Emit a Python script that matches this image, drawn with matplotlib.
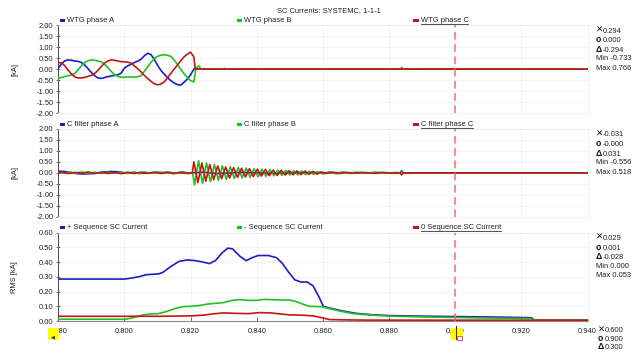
import matplotlib
matplotlib.use("Agg")
import matplotlib.pyplot as plt
from matplotlib.patches import Rectangle
from matplotlib.lines import Line2D

plt.rcParams['font.family'] = ['Liberation Sans', 'DejaVu Sans']

# ---------------------------------------------------------------- data
# WTG phase currents [kA] before the breaker opens
wtg_t = [0.780, 0.781, 0.782, 0.783, 0.784, 0.785, 0.786, 0.787, 0.788, 0.789,
         0.790, 0.791, 0.792, 0.793, 0.794, 0.795, 0.796, 0.797, 0.798, 0.799,
         0.800, 0.801, 0.802, 0.803, 0.804, 0.805, 0.806, 0.807, 0.808, 0.809,
         0.810, 0.811, 0.812, 0.813, 0.814, 0.815, 0.816, 0.817, 0.818, 0.819,
         0.820, 0.821]
wtg_a = [0.05, 0.25, 0.38, 0.42, 0.40, 0.37, 0.35, 0.30, 0.18, 0.02,
         -0.15, -0.30, -0.40, -0.42, -0.38, -0.34, -0.31, -0.28, -0.26, -0.18,
         0.05, 0.15, 0.22, 0.30, 0.36, 0.45, 0.60, 0.72, 0.66, 0.45,
         0.18, -0.05, -0.22, -0.38, -0.52, -0.62, -0.70, -0.72, -0.60, -0.45,
         -0.25, 0.00]
wtg_b = [-0.41, -0.38, -0.33, -0.30, -0.26, -0.20, -0.02, 0.15, 0.30, 0.38,
         0.42, 0.40, 0.37, 0.33, 0.22, 0.08, -0.10, -0.25, -0.33, -0.37,
         -0.36, -0.36, -0.35, -0.36, -0.34, -0.30, -0.10, 0.10, 0.30, 0.48,
         0.58, 0.63, 0.65, 0.63, 0.58, 0.42, 0.22, 0.00, -0.20, -0.38,
         -0.52, -0.58]
wtg_c = [0.30, 0.28, 0.15, -0.05, -0.22, -0.35, -0.40, -0.40, -0.37, -0.33,
         -0.28, -0.20, -0.05, 0.12, 0.28, 0.37, 0.42, 0.40, 0.37, 0.34,
         0.33, 0.32, 0.27, 0.15, 0.02, -0.12, -0.28, -0.42, -0.55, -0.66,
         -0.71, -0.68, -0.58, -0.40, -0.20, 0.00, 0.18, 0.38, 0.55, 0.68,
         0.77, 0.55]
# after the breaker opens
wtg_a_tail_t = [0.8215, 0.822, 0.940]
wtg_a_tail = [0.06, 0.0, 0.0]
wtg_b_tail_t = [0.8216, 0.8225, 0.8232, 0.8298, 0.8302, 0.8306, 0.8834, 0.8838, 0.8842, 0.940]
wtg_b_tail = [0.05, 0.15, 0.0, 0.0, 0.04, 0.0, 0.0, 0.08, 0.0, 0.0]
wtg_c_tail_t = [0.8214, 0.940]
wtg_c_tail = [0.0, 0.0]

# C filter currents [kA]
cf_a_t = [0.780, 0.782, 0.784, 0.786, 0.788, 0.790, 0.792, 0.794, 0.796, 0.798,
          0.800, 0.805, 0.810, 0.815, 0.8205, 0.824, 0.828, 0.835, 0.845, 0.855,
          0.8834, 0.8838, 0.8842, 0.940]
cf_a = [0.08, 0.06, 0.00, -0.04, -0.05, -0.04, 0.00, 0.04, 0.06, 0.05,
        0.00, -0.02, 0.02, 0.00, 0.00, 0.03, -0.03, 0.02, -0.02, 0.01,
        0.0, 0.10, 0.0, 0.0]
cf_b_t = [0.780, 0.782, 0.7835, 0.785, 0.787, 0.789, 0.791, 0.793, 0.795, 0.797,
          0.799, 0.801, 0.803, 0.8045, 0.806, 0.808, 0.810, 0.812, 0.814, 0.816,
          0.818, 0.8195, 0.8206,
          0.8212, 0.8224, 0.8236, 0.8248, 0.8260, 0.8272, 0.8284, 0.8296, 0.8308, 0.8320,
          0.8332, 0.8344, 0.8356, 0.8368, 0.8380, 0.8392, 0.8404, 0.8416, 0.8428, 0.8440,
          0.8452, 0.8464, 0.8476, 0.8488, 0.8500, 0.8512, 0.8524, 0.8536, 0.8548, 0.8560,
          0.8572, 0.8584,
          0.860, 0.862, 0.864, 0.866, 0.868, 0.870, 0.873, 0.876, 0.879, 0.882,
          0.8834, 0.8838, 0.8842, 0.940]
cf_b = [0.02, -0.02, 0.04, -0.02, 0.04, -0.03, 0.03, -0.03, 0.02, -0.02,
        0.03, -0.03, 0.05, -0.04, 0.04, -0.02, 0.03, -0.03, 0.02, -0.02,
        0.04, -0.03, 0.00,
        -0.55, 0.55, -0.48, 0.45, -0.40, 0.38, -0.34, 0.32, -0.30, 0.28,
        -0.26, 0.25, -0.23, 0.22, -0.20, 0.19, -0.18, 0.17, -0.16, 0.15,
        -0.14, 0.13, -0.12, 0.11, -0.10, 0.10, -0.09, 0.09, -0.08, 0.07,
        -0.07, 0.06,
        -0.05, 0.05, -0.04, 0.04, -0.03, 0.03, -0.02, 0.03, -0.02, 0.02,
        0.0, 0.05, 0.0, 0.0]
cf_c_t = [0.780, 0.781, 0.783, 0.785, 0.787, 0.789, 0.791, 0.793, 0.795, 0.797,
          0.799, 0.801, 0.803, 0.805, 0.807, 0.809, 0.811, 0.813, 0.815, 0.817,
          0.819, 0.8205,
          0.8210, 0.8222, 0.8234, 0.8246, 0.8258, 0.8270, 0.8282, 0.8294, 0.8306, 0.8318,
          0.8330, 0.8342, 0.8354, 0.8366, 0.8378, 0.8390, 0.8402, 0.8414, 0.8426, 0.8438,
          0.8450, 0.8462, 0.8474, 0.8486, 0.8498, 0.8510, 0.8522, 0.8534, 0.8546, 0.8558,
          0.8570, 0.8582,
          0.8595, 0.861, 0.863, 0.865, 0.867, 0.869, 0.872, 0.875, 0.878, 0.881,
          0.8834, 0.8838, 0.8842, 0.940]
cf_c = [-0.02, 0.03, -0.03, 0.02, -0.02, 0.04, -0.03, 0.03, -0.03, 0.02,
        -0.04, 0.03, -0.03, 0.03, -0.02, 0.03, -0.03, 0.04, -0.04, 0.04,
        -0.03, 0.00,
        0.50, -0.45, 0.45, -0.38, 0.38, -0.32, 0.32, -0.27, 0.27, -0.24,
        0.24, -0.21, 0.21, -0.19, 0.19, -0.17, 0.17, -0.15, 0.15, -0.13,
        0.13, -0.12, 0.12, -0.10, 0.10, -0.09, 0.09, -0.08, 0.08, -0.07,
        0.07, -0.06,
        0.04, -0.03, 0.03, -0.03, 0.02, -0.02, 0.02, -0.02, 0.02, -0.01,
        0.0, -0.10, 0.0, 0.0]

# Sequence RMS currents [kA]
pos_t = [0.780, 0.800, 0.8017, 0.8042, 0.8067, 0.8103, 0.8116, 0.8140, 0.8165, 0.8190,
         0.8214, 0.8239, 0.8257, 0.8275, 0.8294, 0.8312, 0.8327, 0.8349, 0.8368, 0.8386,
         0.8404, 0.8435, 0.8460, 0.8478, 0.8497, 0.8515, 0.8533, 0.8552, 0.8570, 0.8589,
         0.8601, 0.862, 0.866, 0.870, 0.875, 0.880, 0.890, 0.900, 0.912, 0.9232,
         0.9238, 0.940]
pos_seq = [0.285, 0.285, 0.29, 0.30, 0.315, 0.32, 0.33, 0.37, 0.405, 0.415,
           0.41, 0.40, 0.39, 0.41, 0.46, 0.495, 0.49, 0.44, 0.41, 0.43,
           0.445, 0.445, 0.43, 0.39, 0.33, 0.28, 0.265, 0.265, 0.24, 0.16,
           0.10, 0.088, 0.068, 0.052, 0.042, 0.037, 0.033, 0.030, 0.027, 0.022,
           0.005, 0.005]
neg_t = [0.780, 0.8005, 0.8030, 0.8054, 0.8079, 0.8103, 0.8128, 0.8153, 0.8177, 0.8202,
         0.8226, 0.8251, 0.8275, 0.8300, 0.8325, 0.8349, 0.8374, 0.8398, 0.8423, 0.8447,
         0.8472, 0.8497, 0.8515, 0.8533, 0.8558, 0.8595, 0.8619, 0.8656, 0.8693, 0.8742,
         0.8804, 0.8914, 0.900, 0.9099, 0.9234, 0.9240, 0.940]
neg_seq = [0.012, 0.012, 0.025, 0.040, 0.048, 0.050, 0.065, 0.085, 0.098, 0.100,
           0.105, 0.115, 0.120, 0.125, 0.140, 0.145, 0.140, 0.140, 0.147, 0.145,
           0.142, 0.143, 0.135, 0.120, 0.100, 0.097, 0.085, 0.065, 0.050, 0.040,
           0.033, 0.027, 0.024, 0.020, 0.016, 0.005, 0.005]
zero_t = [0.780, 0.810, 0.814, 0.8202, 0.8239, 0.8275, 0.8300, 0.8337, 0.8374, 0.8410,
          0.8441, 0.8472, 0.8497, 0.8533, 0.8570, 0.8601, 0.8620, 0.8656, 0.873, 0.940]
zero_seq = [0.032, 0.032, 0.033, 0.035, 0.040, 0.050, 0.055, 0.052, 0.050, 0.057,
            0.055, 0.048, 0.042, 0.040, 0.035, 0.020, 0.010, 0.008, 0.006, 0.005]

cursor_t = 0.900
x_ticks = [0.78, 0.80, 0.82, 0.84, 0.86, 0.88, 0.90, 0.92, 0.94]

title = "SC Currents: SYSTEMC, 1-1-1"
legend_top = ["WTG phase A", "WTG phase B", "WTG phase C"]
legend_mid = ["C filter phase A", "C filter phase B", "C filter phase C"]
legend_bot = ["+ Sequence SC Current", "- Sequence SC Current", "0 Sequence SC Current"]
stats_top = ["0.294", "0.000", "-0.294", "Min -0.733", "Max 0.766"]
stats_mid = ["-0.031", "-0.000", "0.031", "Min -0.556", "Max 0.518"]
stats_bot = ["0.029", "0.001", "-0.028", "Min 0.000", "Max 0.053"]
stats_time = ["0.600", "0.900", "0.300"]

# ---------------------------------------------------------------- style
BLUE, GREEN, RED = '#1c1cc8', '#1ec21e', '#c81414'
CURSOR = '#ff6b6b'
GRID = '#f1f1f1'
FS = 5.4
W, H = 637, 354
SYMS = ["\u2715", "o", "\u0394"]

fig = plt.figure(figsize=(W / 100, H / 100), dpi=100)
fig.patch.set_facecolor('white')


def px_axes(left, top, right, bottom):
    return fig.add_axes([left / W, 1 - bottom / H, (right - left) / W, (bottom - top) / H])


def style_axes(ax, ylim, yticks, ylabel, show_x):
    ax.set_xlim(0.78, 0.94)
    ax.set_ylim(*ylim)
    ax.set_yticks(yticks)
    ax.set_yticklabels([f"{v:.2f}" for v in yticks])
    ax.set_xticks(x_ticks)
    ax.grid(True, color=GRID, lw=0.6, zorder=0)
    for s in ('top', 'right'):
        ax.spines[s].set_color('#eeeeee')
        ax.spines[s].set_linewidth(0.6)
    ax.spines['left'].set_color('#555555')
    ax.spines['left'].set_linewidth(0.8)
    ax.tick_params(axis='y', direction='inout', length=3, width=0.6, colors='#555555',
                   labelsize=FS, labelcolor='#222222', pad=2)
    if show_x:
        ax.spines['bottom'].set_color('#888888')
        ax.spines['bottom'].set_linewidth(0.8)
        ax.set_xticklabels([f"{v:.3f}" for v in x_ticks])
        ax.tick_params(axis='x', direction='in', length=3, width=0.6, colors='#555555',
                       labelsize=FS, labelcolor='#222222', pad=5)
    else:
        ax.spines['bottom'].set_color(GRID)
        ax.tick_params(axis='x', length=0, labelbottom=False)
    ax.set_ylabel(ylabel, fontsize=FS, color='#222222')
    ax.yaxis.set_label_coords(-40 / 529, 0.5)
    ax.axvline(cursor_t, color=CURSOR, lw=1.1, ls=(0, (5, 3)), zorder=5)


ax1 = px_axes(58.3, 25, 587.5, 113.3)
ax2 = px_axes(58.3, 129, 587.5, 216.7)
ax3 = px_axes(58.3, 232.7, 587.5, 321)

kA_ticks = [2.0, 1.5, 1.0, 0.5, 0.0, -0.5, -1.0, -1.5, -2.0]
style_axes(ax1, (-2, 2), kA_ticks, "[kA]", False)
style_axes(ax2, (-2, 2), kA_ticks, "[kA]", False)
style_axes(ax3, (0, 0.6), [0.0, 0.1, 0.2, 0.3, 0.4, 0.5, 0.6], "RMS [kA]", True)

LW = 1.2
ax1.plot(wtg_t + wtg_a_tail_t, wtg_a + wtg_a_tail, color=BLUE, lw=LW, zorder=3)
ax1.plot(wtg_t + wtg_b_tail_t, wtg_b + wtg_b_tail, color=GREEN, lw=LW, zorder=3)
ax1.plot(wtg_t + wtg_c_tail_t, wtg_c + wtg_c_tail, color=RED, lw=LW, zorder=3)

ax2.plot(cf_a_t, cf_a, color=BLUE, lw=LW, zorder=3)
ax2.plot(cf_b_t, cf_b, color=GREEN, lw=LW, zorder=3)
ax2.plot(cf_c_t, cf_c, color=RED, lw=LW, zorder=3)

ax3.plot(pos_t, pos_seq, color=BLUE, lw=LW, zorder=3)
ax3.plot(neg_t, neg_seq, color=GREEN, lw=LW, zorder=3)
ax3.plot(zero_t, zero_seq, color=RED, lw=LW, zorder=3)

# title
fig.text(329 / W, 1 - 10.5 / H, title, fontsize=FS, ha='center', va='center', color='#222222')

# legend rows
fig.canvas.draw()
renderer = fig.canvas.get_renderer()


def legend_row(y_px, labels):
    for i, (lab, col, xm) in enumerate(zip(labels, (BLUE, GREEN, RED), (59.5, 236.5, 413))):
        fig.add_artist(Rectangle((xm / W, 1 - (y_px + 1.7) / H), 5.5 / W, 3.4 / H,
                                 transform=fig.transFigure, color=col, lw=0))
        t = fig.text((xm + 7.5) / W, 1 - y_px / H, lab, fontsize=FS, ha='left',
                     va='center', color='#222222')
        if i == 2:
            bb = t.get_window_extent(renderer=renderer)
            yline = 1 - (y_px + 3.6) / H
            fig.add_artist(Line2D([bb.x0 / W, bb.x1 / W], [yline, yline],
                                  transform=fig.transFigure, color='#333333', lw=0.6))


legend_row(20.3, legend_top)
legend_row(124.5, legend_mid)
legend_row(227.7, legend_bot)


# readouts on the right
def readouts(ys, texts, x_sym=596.0, x_txt=603.0):
    for k, (y, txt) in enumerate(zip(ys, texts)):
        if k < 3:
            fig.text(x_sym / W, 1 - y / H, SYMS[k], fontsize=6.2, ha='left', va='center',
                     color='#111111', fontweight='bold')
            fig.text(x_txt / W, 1 - (y + 1) / H, txt, fontsize=FS, ha='left', va='center',
                     color='#222222')
        else:
            fig.text(x_sym / W, 1 - y / H, txt, fontsize=FS, ha='left', va='center',
                     color='#222222')


readouts([30.5, 39.8, 49.5, 59.0, 68.7], stats_top)
readouts([134.0, 143.8, 153.2, 162.8, 172.3], stats_mid)
readouts([237.3, 247.3, 256.7, 266.7, 275.9], stats_bot)
readouts([330.0, 338.3, 346.5], stats_time, x_sym=598.0, x_txt=605.0)

# time cursor handles below the axis
fig.add_artist(Rectangle((47.7 / W, 1 - 340 / H), 11.6 / W, 12.3 / H,
                         transform=fig.transFigure, color='#ffff00', lw=0, zorder=10))
fig.text(53.3 / W, 1 - 336.5 / H, "\u25c0", fontsize=3.6, ha='center', va='center',
         color=BLUE, zorder=11, family=['DejaVu Sans'])
fig.add_artist(Rectangle((451 / W, 1 - 340 / H), 12 / W, 12.3 / H,
                         transform=fig.transFigure, color='#ffff00', lw=0, zorder=10))
fig.add_artist(Line2D([455.5 / W, 455.5 / W], [1 - 326 / H, 1 - 339 / H],
                      transform=fig.transFigure, color='#333333', lw=0.8, zorder=11))
fig.add_artist(Rectangle((457 / W, 1 - 340 / H), 5 / W, 4 / H, transform=fig.transFigure,
                         facecolor='#ffffff', edgecolor='#d04040', lw=0.6, zorder=11))

fig.savefig("out.png", dpi=100, facecolor='white')
